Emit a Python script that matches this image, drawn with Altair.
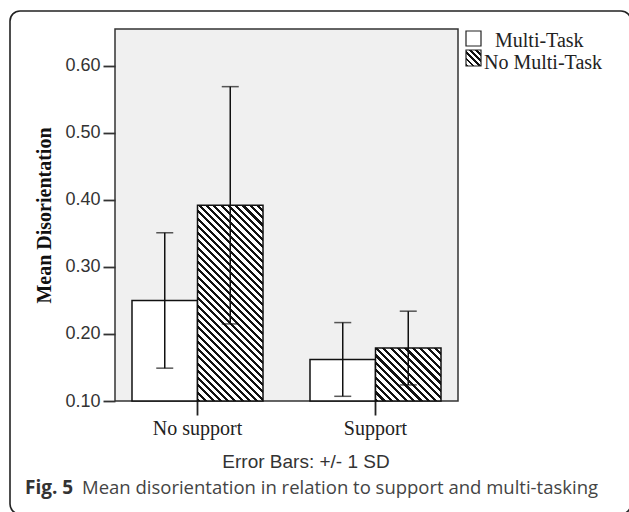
import math
import altair as alt
import pandas as pd

# ---- data ----
groups = ["No support", "Support"]
series = ["Multi-Task", "No Multi-Task"]
mean_multi = [0.250, 0.162]
mean_nomulti = [0.392, 0.179]
sd_multi = [0.101, 0.055]
sd_nomulti = [0.177, 0.055]
y_ticks = [0.10, 0.20, 0.30, 0.40, 0.50, 0.60]

rows = []
for i, g in enumerate(groups):
    rows.append({"group": g, "series": series[0], "mean": mean_multi[i], "sd": sd_multi[i]})
    rows.append({"group": g, "series": series[1], "mean": mean_nomulti[i], "sd": sd_nomulti[i]})
df = pd.DataFrame(rows)
df["lo"] = df["mean"] - df["sd"]
df["hi"] = df["mean"] + df["sd"]

# ---- layout ----
W, H = 343, 372
YMIN, YMAX = 0.10, 0.655
PI, PO = 0.264, 0.0955
step = W / (2 - PI + 2 * PO)
bar_w = step * (1 - PI) / 2

SERIF = "Liberation Serif"
SANS = "Liberation Sans"


def hatch(w, h, period=5.2, frac=0.42):
    s = (w + h) / (w * w + h * h)
    n = max(1, round((w + h) / (math.sqrt(2) * period)))
    stops = []
    for k in range(n):
        a, b, c = k / n, (k + frac) / n, (k + 1) / n
        stops += [
            {"offset": a, "color": "#111"},
            {"offset": b, "color": "#111"},
            {"offset": b, "color": "white"},
            {"offset": c, "color": "white"},
        ]
    return {"gradient": "linear", "x1": 0, "y1": 1, "x2": s * w, "y2": 1 - s * h, "stops": stops}


x_enc = alt.X("group:N", sort=groups,
              scale=alt.Scale(paddingInner=PI, paddingOuter=PO),
              axis=alt.Axis(title=None, labelAngle=0, labelFont=SERIF, labelFontSize=20,
                            labelColor="#222", tickSize=14, tickWidth=1.8, tickColor="#222",
                            domain=False, labelPadding=3))
xo_enc = alt.XOffset("series:N", sort=series, scale=alt.Scale(paddingInner=0, paddingOuter=0))
y_scale = alt.Scale(domain=[YMIN, YMAX], zero=False, nice=False)
y_enc = alt.Y("mean:Q", scale=y_scale,
              axis=alt.Axis(values=y_ticks, format=".2f", title="Mean Disorientation",
                            titleFont=SERIF, titleFontSize=20, titleFontWeight="bold",
                            titleColor="#111", titlePadding=10,
                            labelFont=SANS, labelFontSize=18, labelColor="#333",
                            tickSize=12, tickWidth=1.8, tickColor="#333", labelPadding=3,
                            domain=False, grid=False))

base = alt.Chart(df).encode(x=x_enc, xOffset=xo_enc)

layers = []
# frame around the figure
frame = alt.Chart(pd.DataFrame({"k": [0]})).mark_rect(
    fillOpacity=0, stroke="#222", strokeWidth=1.6, cornerRadius=10, clip=False
).encode(x=alt.value(-105), x2=alt.value(516), y=alt.value(-18), y2=alt.value(485))
layers.append(frame)

white_bars = base.transform_filter(alt.datum.series == series[0]).mark_bar(
    fill="white", stroke="#111", strokeWidth=1.5
).encode(y=y_enc, y2=alt.datum(YMIN))
layers.append(white_bars)

for i, g in enumerate(groups):
    h = (mean_nomulti[i] - YMIN) / (YMAX - YMIN) * H
    hb = base.transform_filter(
        (alt.datum.series == series[1]) & (alt.datum.group == g)
    ).mark_bar(fill=hatch(bar_w, h), stroke="#111", strokeWidth=1.5).encode(
        y=alt.Y("mean:Q", scale=y_scale), y2=alt.datum(YMIN))
    layers.append(hb)

err = base.mark_rule(color="#111", strokeWidth=1.5).encode(
    y=alt.Y("lo:Q", scale=y_scale), y2="hi:Q")
cap_lo = base.mark_tick(color="#111", size=17, thickness=1.5).encode(y=alt.Y("lo:Q", scale=y_scale))
cap_hi = base.mark_tick(color="#111", size=17, thickness=1.5).encode(y=alt.Y("hi:Q", scale=y_scale))
layers += [err, cap_lo, cap_hi]

# legend
one = pd.DataFrame({"k": [0]})
leg1 = alt.Chart(one).mark_rect(fill="white", stroke="#222", strokeWidth=1.2, clip=False).encode(
    x=alt.value(351), x2=alt.value(366), y=alt.value(2), y2=alt.value(17))
leg2 = alt.Chart(one).mark_rect(fill=hatch(15, 16, period=4.5, frac=0.45), stroke="#222",
                                strokeWidth=1.2, clip=False).encode(
    x=alt.value(351), x2=alt.value(366), y=alt.value(21), y2=alt.value(37))
leg_t1 = alt.Chart(one).mark_text(font=SERIF, fontSize=20, color="#222", align="left",
                                  baseline="alphabetic", text=series[0]).encode(
    x=alt.value(380), y=alt.value(18))
leg_t2 = alt.Chart(one).mark_text(font=SERIF, fontSize=20, color="#222", align="left",
                                  baseline="alphabetic", text=series[1]).encode(
    x=alt.value(369), y=alt.value(40))
layers += [leg1, leg2, leg_t1, leg_t2]

note = alt.Chart(one).mark_text(font=SANS, fontSize=19, color="#333", align="center",
                                baseline="alphabetic", text="Error Bars: +/- 1 SD").encode(
    x=alt.value(191), y=alt.value(439))
cap_a = alt.Chart(one).mark_text(font="Open Sans", fontSize=19, fontWeight="bold", color="#333",
                                 align="left", baseline="alphabetic", text="Fig. 5").encode(
    x=alt.value(-90), y=alt.value(465))
cap_b = alt.Chart(one).mark_text(font="Open Sans", fontSize=18.5, color="#444", align="left",
                                 baseline="alphabetic",
                                 text="Mean disorientation in relation to support and multi-tasking").encode(
    x=alt.value(-33), y=alt.value(465))
layers += [note, cap_a, cap_b]

chart = alt.layer(*layers).properties(
    width=W, height=H,
    autosize=alt.AutoSizeParams(type="none"),
    padding={"left": 115, "top": 29, "right": 629 - 115 - W, "bottom": 512 - 29 - H},
    background="white",
).configure_view(fill="#f0f0f0", stroke="#333", strokeWidth=1.5)

chart.save("out.html", embed_options={"renderer": "svg", "actions": False})
